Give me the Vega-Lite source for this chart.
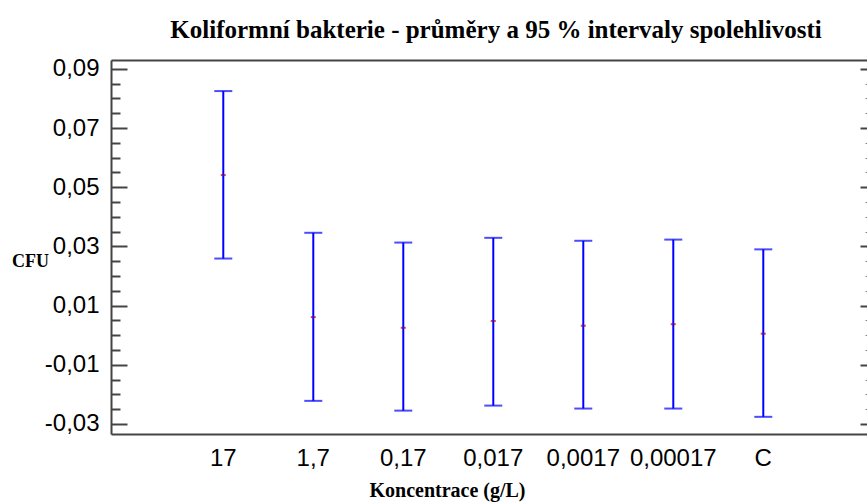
{
  "$schema": "https://vega.github.io/schema/vega-lite/v6.json",
  "width": 756,
  "height": 374,
  "autosize": {"type": "none"},
  "padding": {"left": 111, "top": 60, "right": 0, "bottom": 68},
  "background": "white",
  "config": {"view": {"stroke": null}},
  "title": {
    "text": "Koliformní bakterie - průměry a 95 % intervaly spolehlivosti",
    "font": "Liberation Serif",
    "fontSize": 25,
    "fontWeight": "bold",
    "color": "#000000",
    "anchor": "middle",
    "dx": 7,
    "baseline": "alphabetic",
    "offset": -6
  },
  "data": {
    "values": [
      {"konc": "17", "lo": 0.0259, "mean": 0.0541, "hi": 0.0825},
      {"konc": "1,7", "lo": -0.0222, "mean": 0.0061, "hi": 0.0346},
      {"konc": "0,17", "lo": -0.0255, "mean": 0.0025, "hi": 0.0313},
      {"konc": "0,017", "lo": -0.0238, "mean": 0.0048, "hi": 0.0329},
      {"konc": "0,0017", "lo": -0.0248, "mean": 0.0032, "hi": 0.0319},
      {"konc": "0,00017", "lo": -0.0248, "mean": 0.0037, "hi": 0.0323},
      {"konc": "C", "lo": -0.0276, "mean": 0.0005, "hi": 0.0290}
    ]
  },
  "resolve": {"axis": {"x": "independent", "y": "independent"}},
  "layer": [
    {
      "mark": {"type": "rule", "color": "#0000ff", "strokeWidth": 2},
      "encoding": {
        "x": {
          "field": "konc", "type": "nominal", "sort": null,
          "scale": {"type": "band", "paddingInner": 0, "paddingOuter": 0.7, "align": 0.534},
          "axis": {
            "orient": "bottom",
            "title": "Koncentrace (g/L)",
            "titleFont": "Liberation Serif", "titleFontSize": 20, "titleFontWeight": "bold", "titleColor": "#000000",
            "titleX": 336, "titleY": 62, "titleAnchor": null, "titleAlign": "center", "titleBaseline": "alphabetic",
            "labelFont": "Liberation Sans", "labelFontSize": 24, "labelColor": "#000000",
            "labelAngle": 0, "labelPadding": 12, "ticks": false, "tickSize": 0,
            "domain": true, "domainColor": "#444444", "domainWidth": 2, "grid": false
          }
        },
        "y": {
          "field": "lo", "type": "quantitative",
          "scale": {"domain": [-0.0334, 0.093], "nice": false, "zero": false},
          "axis": {
            "orient": "left",
            "values": [-0.03, -0.01, 0.01, 0.03, 0.05, 0.07, 0.09],
            "labelExpr": "replace(replace(format(datum.value, '.2f'), '.', ','), '\u2212', '-')",
            "labelFont": "Liberation Sans", "labelFontSize": 24, "labelColor": "#000000",
            "labelBaseline": "middle",
            "tickSize": -16, "tickWidth": 2, "tickColor": "#444444", "labelPadding": 28,
            "domain": true, "domainColor": "#444444", "domainWidth": 2, "grid": false,
            "title": "CFU", "titleAngle": 0, "titleFont": "Liberation Serif", "titleFontSize": 18,
            "titleFontWeight": "bold", "titleColor": "#000000",
            "titleX": -81, "titleY": 201, "titleAlign": "center", "titleBaseline": "middle"
          }
        },
        "y2": {"field": "hi"}
      }
    },
    {
      "mark": {"type": "tick", "color": "#0000ff", "size": 18, "thickness": 2, "orient": "horizontal"},
      "encoding": {
        "x": {
          "field": "konc", "type": "nominal", "sort": null,
          "scale": {"type": "band", "paddingInner": 0, "paddingOuter": 0.7, "align": 0.534},
          "axis": {"orient": "top", "labels": false, "ticks": false, "title": null,
                   "minExtent": 0, "maxExtent": 0,
                   "domain": true, "domainColor": "#444444", "domainWidth": 2, "grid": false}
        },
        "y": {
          "field": "lo", "type": "quantitative",
          "scale": {"domain": [-0.0334, 0.093], "nice": false, "zero": false},
          "axis": {
            "orient": "left",
            "values": [-0.025, -0.02, -0.015, -0.005, 0, 0.005, 0.015, 0.02, 0.025, 0.035, 0.04, 0.045, 0.055, 0.06, 0.065, 0.075, 0.08, 0.085],
            "labels": false, "domain": false, "grid": false, "title": null,
            "tickSize": -9, "tickWidth": 2, "tickColor": "#444444"
          }
        }
      }
    },
    {
      "mark": {"type": "tick", "color": "#0000ff", "size": 18, "thickness": 2, "orient": "horizontal"},
      "encoding": {
        "x": {"field": "konc", "type": "nominal", "sort": null,
              "scale": {"type": "band", "paddingInner": 0, "paddingOuter": 0.7, "align": 0.534}, "axis": null},
        "y": {
          "field": "hi", "type": "quantitative",
          "scale": {"domain": [-0.0334, 0.093], "nice": false, "zero": false},
          "axis": {
            "orient": "right",
            "values": [-0.03, -0.01, 0.01, 0.03, 0.05, 0.07, 0.09],
            "labels": false, "domain": false, "grid": false, "title": null,
            "tickSize": -7, "tickWidth": 2, "tickColor": "#444444"
          }
        }
      }
    },
    {
      "mark": {"type": "tick", "color": "#9b0040", "size": 5, "thickness": 2, "orient": "horizontal"},
      "encoding": {
        "x": {"field": "konc", "type": "nominal", "sort": null,
              "scale": {"type": "band", "paddingInner": 0, "paddingOuter": 0.7, "align": 0.534}, "axis": null},
        "y": {
          "field": "mean", "type": "quantitative",
          "scale": {"domain": [-0.0334, 0.093], "nice": false, "zero": false},
          "axis": {
            "orient": "right",
            "values": [-0.025, -0.02, -0.015, -0.005, 0, 0.005, 0.015, 0.02, 0.025, 0.035, 0.04, 0.045, 0.055, 0.06, 0.065, 0.075, 0.08, 0.085],
            "labels": false, "domain": false, "grid": false, "title": null,
            "tickSize": -2, "tickWidth": 1, "tickColor": "#888888"
          }
        }
      }
    }
  ]
}
